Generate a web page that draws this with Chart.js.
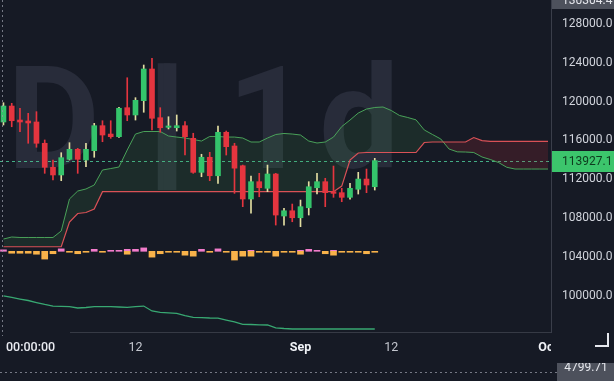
<!DOCTYPE html>
<html><head><meta charset="utf-8">
<script src="https://cdn.jsdelivr.net/npm/chart.js@4.4.1/dist/chart.umd.min.js"></script>
<style>
html,body{margin:0;padding:0;background:#161a25;overflow:hidden}
#wrap{width:614px;height:381px;position:relative}
canvas{display:block}
</style></head><body>
<div id="wrap"><canvas id="c" width="614" height="381"></canvas></div>
<script>
// ---- data ----
const candleOpen  = [117900,119540,118100,118000,117900,115710,113240,112450,114060,115090,113990,114950,117520,116660,116390,119370,118620,120090,123350,118340,117350,117310,117520,116220,112720,114270,112370,116840,115430,113400,109980,111760,111080,112550,108230,108770,108050,109080,111140,111760,110730,110630,110150,110980,112030,111240];
const candleHigh  = [119880,119820,119310,118790,118960,116050,113990,114740,115770,115190,115710,117760,118030,118030,119400,122450,120400,123760,124450,119370,118440,118620,117930,116740,114580,114780,117490,116970,115710,113470,112340,112620,113470,112620,109020,109460,109870,111760,112620,112110,113370,111080,111590,112720,113060,114160];
const candleLow   = [117590,117410,116900,115710,115300,112620,111930,111860,113990,112620,113300,114270,115870,116220,116300,118030,118100,118900,117080,116840,117180,116970,114500,112620,112270,111860,111590,114500,110560,109190,108510,110210,110730,107300,107300,107640,107130,108330,110490,109190,110150,109700,109950,110490,110630,110900];
const candleClose = [119540,118030,117900,117800,115710,113240,112450,114230,115090,114060,115090,117520,116560,116390,119310,118620,120130,123350,118280,117310,117490,117520,116390,112720,114270,112370,116840,115360,113150,109980,111760,111140,112550,108330,108770,108050,109190,111240,111760,110630,110560,110150,111080,112030,111420,113927.1];

const leadGreen = [105860,106070,106020,106020,106020,106020,106020,106690,109980,110800,
  111010,111420,112960,113110,113270,115020,116660,116920,116920,116920,
  116460,116350,116250,116100,115940,116410,116410,116350,116350,116250,
  115840,115840,116250,116610,116720,116660,116560,115940,115740,115840,
  116350,117430,118100,118820,119230,119390,119440,119080,118570,118360,
  118120,117080,116610,116150,115120,114830,114810,114760,114300,114040,
  113730,113240,113060,113060,113060,113060,113060];
const leadRed = [105070,105070,105070,105070,105070,105070,105070,105070,107610,108490,
  108590,108950,110730,110730,110730,110730,110730,110730,110730,110730,
  110730,110730,110730,110730,110730,110730,110730,110730,110730,110730,
  110730,110730,110730,110730,110730,110730,110730,110730,110730,110730,
  110730,111310,113990,114710,114760,114760,114760,114760,114760,114760,
  114760,115790,115840,115840,115840,115840,115840,116300,115990,115910,
  115910,115910,115910,115910,115910,115910,115910];

const histUp   = [150,0,0,0,0,0,0,250,0,0,0,200,0,100,100,200,200,350,0,0,0,0,0,0,200,0,250,0,0,0,100,0,0,0,0,0,100,200,100,0,100,0,0,0,0,0];
const histDown = [0,-200,-200,-200,-300,-800,-250,0,-100,-250,-100,0,-100,0,0,-300,0,0,-600,-250,-100,-100,-400,-500,0,-100,0,-100,-900,-500,-500,-100,-100,-500,-100,-100,-300,0,0,-250,-400,-100,-100,-100,-250,-100];
const histBase = 104600;

const lowerLine = [100020,99850,99690,99540,99330,99130,98970,98940,98900,98770,
  98820,98900,98900,98900,98870,98840,98920,98970,98460,98320,
  98270,98220,97990,97810,97780,97740,97720,97530,97340,97090,
  97070,97040,97020,96730,96660,96610,96610,96610,96610,96610,
  96610,96610,96610,96610,96610,96610];

const yTicks = [100000,104000,108000,112000,116000,120000,124000,128000];
const xTickIndex = [16, 36, 47, 66];
const xTickLabels = ['12', 'Sep', '12', 'Oct'];
const crossIndex = 0;
const crossTimeLabel = '00:00:00';
const crossValueLabel = '4799.71';
const lastPrice = 113927.1;
const highMarker = 130304.4;

// ---- styling ----
const GREEN = '#34c46b', RED = '#e5353f', GREEN_WICK = '#e2dea2';
const isUp = candleOpen.map((o, i) => candleClose[i] >= o);

const wickData = candleOpen.map((_, i) => ({x: i, y: [candleLow[i], candleHigh[i]]}));
const bodyData = candleOpen.map((o, i) => ({x: i, y: [o, candleClose[i]]}));
const histUpData = [], histDownData = [];
histUp.forEach((v, i) => { if (v) histUpData.push({x: i, y: [histBase, histBase + v]}); });
histDown.forEach((v, i) => { if (v) histDownData.push({x: i, y: [histBase + v, histBase]}); });

const overlay = {
  id: 'overlay',
  beforeDatasetsDraw(chart) {
    const {ctx, chartArea: a, scales: {y}} = chart;
    ctx.save();
    ctx.beginPath(); ctx.rect(a.left, a.top, a.right - a.left, a.bottom - a.top); ctx.clip();
    const wm = '#282c3a';
    ctx.fillStyle = wm;
    ctx.font = 'bold 143px Roboto';
    ctx.textBaseline = 'alphabetic';
    ctx.fillText('D', 7, 168);
    ctx.fillText('1', 227, 168);
    ctx.fillText('d', 319, 168);
    ctx.font = 'bold 150px Roboto';
    ctx.fillText('|', 145, 170);
    ctx.fillText('|', 151, 170);
    // last price dashed line
    const py = Math.round(y.getPixelForValue(lastPrice)) + 0.5;
    ctx.strokeStyle = 'rgba(75,200,150,0.85)';
    ctx.lineWidth = 1;
    ctx.setLineDash([3, 3]);
    ctx.beginPath(); ctx.moveTo(a.left, py); ctx.lineTo(a.right, py); ctx.stroke();
    ctx.restore();
  },
  afterDraw(chart) {
    const {ctx, chartArea: a, scales: {x, y}} = chart;
    ctx.save();
    // bottom border
    ctx.strokeStyle = '#363a45'; ctx.lineWidth = 1;
    ctx.beginPath(); ctx.moveTo(70, a.bottom + 0.5); ctx.lineTo(a.right, a.bottom + 0.5); ctx.stroke();
    // crosshair
    const cx = Math.round(x.getPixelForValue(crossIndex)) - 0.5;
    ctx.strokeStyle = 'rgba(150,154,166,0.75)';
    ctx.setLineDash([2, 3]);
    ctx.beginPath(); ctx.moveTo(cx, 0); ctx.lineTo(cx, a.bottom + 4); ctx.stroke();
    ctx.beginPath(); ctx.moveTo(0, 372.5); ctx.lineTo(557, 372.5); ctx.stroke();
    ctx.setLineDash([]);
    // x labels
    ctx.save();
    ctx.beginPath(); ctx.rect(0, a.bottom, a.right, 40); ctx.clip();
    ctx.textBaseline = 'middle';
    ctx.textAlign = 'left';
    ctx.font = '500 12.5px Roboto';
    ctx.fillStyle = '#e8eaf0';
    ctx.fillText(crossTimeLabel, 6, 348);
    ctx.textAlign = 'center';
    xTickIndex.forEach((k, i) => {
      const lbl = xTickLabels[i];
      const bold = isNaN(Number(lbl));
      ctx.font = (bold ? 'bold ' : '') + '12.5px Roboto';
      ctx.fillStyle = bold ? '#f0f2f7' : '#c3c6ce';
      ctx.fillText(lbl, x.getPixelForValue(k), 348);
    });
    ctx.restore();
    // last price label
    const py = y.getPixelForValue(lastPrice);
    ctx.fillStyle = '#3cc56c';
    ctx.fillRect(a.right + 1, Math.round(py) - 10, chart.width - a.right - 1, 21);
    ctx.fillStyle = '#0e3a1e';
    ctx.font = '12px Roboto'; ctx.textAlign = 'left'; ctx.textBaseline = 'middle';
    ctx.fillText(lastPrice.toFixed(1), a.right + 11, Math.round(py) + 0.5);
    // top high marker
    ctx.save();
    ctx.beginPath(); ctx.rect(a.right + 1, 0, chart.width, 9); ctx.clip();
    ctx.fillStyle = '#4d515c'; ctx.fillRect(a.right + 1, 0, chart.width - a.right, 9);
    ctx.fillStyle = '#e4e6ec';
    ctx.fillText(highMarker.toFixed(1), a.right + 11, 1);
    ctx.restore();
    // bottom crosshair value
    ctx.save();
    ctx.beginPath(); ctx.rect(557, 363, 57, 18); ctx.clip();
    ctx.fillStyle = '#4d515c'; ctx.fillRect(557, 363, 57, 18);
    ctx.fillStyle = '#e4e6ec'; ctx.textAlign = 'center';
    ctx.fillText(crossValueLabel, 586, 368);
    ctx.restore();
    // corner mark
    ctx.strokeStyle = '#e6e8ee'; ctx.lineWidth = 2;
    ctx.beginPath(); ctx.moveTo(595, 346); ctx.lineTo(608, 346); ctx.lineTo(608, 333); ctx.stroke();
    ctx.restore();
  }
};

new Chart(document.getElementById('c'), {
  type: 'bar',
  data: {
    datasets: [
      {type: 'line', data: leadGreen.map((v, i) => ({x: i, y: v})), borderColor: 'rgba(76,168,92,0.95)', borderWidth: 1,
       pointRadius: 0, tension: 0, order: 10,
       fill: {target: 1, above: 'rgba(67,170,80,0.13)', below: 'rgba(205,50,62,0.17)'}},
      {type: 'line', data: leadRed.map((v, i) => ({x: i, y: v})), borderColor: 'rgba(228,84,90,0.95)', borderWidth: 1.2,
       pointRadius: 0, tension: 0, fill: false, order: 9},
      {data: wickData, backgroundColor: isUp.map(u => u ? GREEN_WICK : RED), barThickness: 1, grouped: false, order: 6, borderWidth: 0},
      {data: bodyData, backgroundColor: isUp.map(u => u ? GREEN : RED), barThickness: 5, minBarLength: 1, grouped: false, order: 5, borderWidth: 0},
      {data: histUpData, backgroundColor: '#f27ccb', barThickness: 6, grouped: false, order: 4, borderWidth: 0},
      {data: histDownData, backgroundColor: '#f8b24a', barThickness: 6, grouped: false, order: 3, borderWidth: 0},
      {type: 'line', data: lowerLine.map((v, i) => ({x: i, y: v})), borderColor: '#38a872', borderWidth: 1.3,
       pointRadius: 0, tension: 0, fill: false, order: 2}
    ]
  },
  options: {
    responsive: false, animation: false, devicePixelRatio: 1,
    layout: {padding: 0},
    plugins: {legend: {display: false}, tooltip: {enabled: false}},
    scales: {
      x: {type: 'linear', min: -0.42, max: 66.36, offset: false,
          grid: {display: false}, border: {display: false}, ticks: {display: false},
          afterFit(s) { s.height = 49; s.paddingLeft = 0; s.paddingRight = 0; }},
      y: {type: 'linear', position: 'right', min: 96300, max: 130446,
          grid: {display: false, drawTicks: false}, border: {display: true, color: '#3a3e4a', width: 1},
          afterBuildTicks(s) { s.ticks = yTicks.map(v => ({value: v})); },
          ticks: {padding: 11, color: '#d1d4dc', font: {family: 'Roboto', size: 12}, callback: v => Number(v).toFixed(1)},
          afterFit(s) { s.width = 63; s.paddingTop = 0; s.paddingBottom = 0; }}
    }
  },
  plugins: [overlay]
});
</script>
</body></html>
